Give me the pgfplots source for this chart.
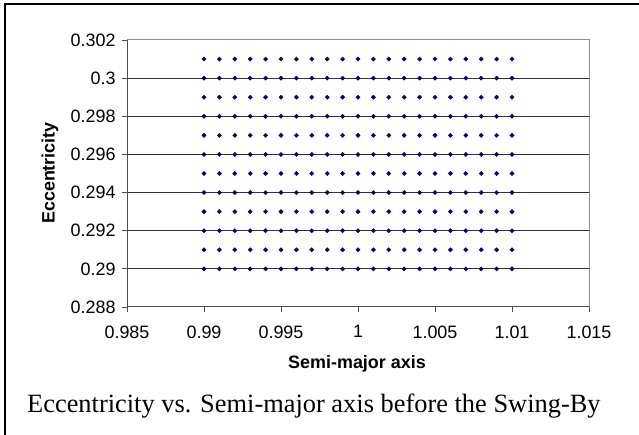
\documentclass[border=0pt]{standalone}
\usepackage{pgfplots}
\pgfplotsset{compat=1.18}
\usepackage{fontspec}
\setmainfont{Liberation Serif}
\newfontfamily\arial{Liberation Sans}
\definecolor{ptnavy}{RGB}{0,0,128}
\begin{document}
\begin{tikzpicture}
  \path[use as bounding box] (0,0) rectangle (639bp,435bp);
  % outer chart frame (only left and top edges are visible)
  \draw[line width=2bp] (5bp,-10bp) -- (5bp,431bp) -- (650bp,431bp);

  \begin{axis}[
    at={(127bp,128bp)}, anchor=south west,
    width=462bp, height=267bp, scale only axis,
    xmin=0.985, xmax=1.015,
    ymin=0.288, ymax=0.302,
    xtick={0.985,0.99,0.995,1,1.005,1.01,1.015},
    ytick={0.288,0.29,0.292,0.294,0.296,0.298,0.3,0.302},
    extra y ticks={0.29,0.292,0.294,0.296,0.298,0.3},
    extra y tick labels={},
    extra y tick style={ymajorgrids=true, major tick length=0pt},
    grid style={black!80, line width=0.8bp},
    scaled ticks=false,
    tick align=outside, tick pos=left,
    major tick length=5bp,
    tick style={black!70, line width=0.8bp},
    axis line style={black!45, line width=1bp},
    /pgf/number format/.cd, fixed, precision=3, assume math mode=true,
    /pgfplots/.cd,
    ticklabel style={font=\arial\fontsize{18}{18}\selectfont},
    yticklabel style={xshift=-3bp},
    xticklabel style={yshift=-10bp},
  ]
    % left and bottom axis lines are darker than the plot-area border
    \draw[black!70, line width=1bp] (rel axis cs:0,1) -- (rel axis cs:0,0) -- (rel axis cs:1,0);

    \addplot[only marks, mark=square*, mark size=1.5bp, mark options={rotate=45}, color=ptnavy] coordinates {
      (0.990,0.290) (0.991,0.290) (0.992,0.290) (0.993,0.290) (0.994,0.290) (0.995,0.290) (0.996,0.290) (0.997,0.290) (0.998,0.290) (0.999,0.290) (1.000,0.290) (1.001,0.290) (1.002,0.290) (1.003,0.290) (1.004,0.290) (1.005,0.290) (1.006,0.290) (1.007,0.290) (1.008,0.290) (1.009,0.290) (1.010,0.290)
      (0.990,0.291) (0.991,0.291) (0.992,0.291) (0.993,0.291) (0.994,0.291) (0.995,0.291) (0.996,0.291) (0.997,0.291) (0.998,0.291) (0.999,0.291) (1.000,0.291) (1.001,0.291) (1.002,0.291) (1.003,0.291) (1.004,0.291) (1.005,0.291) (1.006,0.291) (1.007,0.291) (1.008,0.291) (1.009,0.291) (1.010,0.291)
      (0.990,0.292) (0.991,0.292) (0.992,0.292) (0.993,0.292) (0.994,0.292) (0.995,0.292) (0.996,0.292) (0.997,0.292) (0.998,0.292) (0.999,0.292) (1.000,0.292) (1.001,0.292) (1.002,0.292) (1.003,0.292) (1.004,0.292) (1.005,0.292) (1.006,0.292) (1.007,0.292) (1.008,0.292) (1.009,0.292) (1.010,0.292)
      (0.990,0.293) (0.991,0.293) (0.992,0.293) (0.993,0.293) (0.994,0.293) (0.995,0.293) (0.996,0.293) (0.997,0.293) (0.998,0.293) (0.999,0.293) (1.000,0.293) (1.001,0.293) (1.002,0.293) (1.003,0.293) (1.004,0.293) (1.005,0.293) (1.006,0.293) (1.007,0.293) (1.008,0.293) (1.009,0.293) (1.010,0.293)
      (0.990,0.294) (0.991,0.294) (0.992,0.294) (0.993,0.294) (0.994,0.294) (0.995,0.294) (0.996,0.294) (0.997,0.294) (0.998,0.294) (0.999,0.294) (1.000,0.294) (1.001,0.294) (1.002,0.294) (1.003,0.294) (1.004,0.294) (1.005,0.294) (1.006,0.294) (1.007,0.294) (1.008,0.294) (1.009,0.294) (1.010,0.294)
      (0.990,0.295) (0.991,0.295) (0.992,0.295) (0.993,0.295) (0.994,0.295) (0.995,0.295) (0.996,0.295) (0.997,0.295) (0.998,0.295) (0.999,0.295) (1.000,0.295) (1.001,0.295) (1.002,0.295) (1.003,0.295) (1.004,0.295) (1.005,0.295) (1.006,0.295) (1.007,0.295) (1.008,0.295) (1.009,0.295) (1.010,0.295)
      (0.990,0.296) (0.991,0.296) (0.992,0.296) (0.993,0.296) (0.994,0.296) (0.995,0.296) (0.996,0.296) (0.997,0.296) (0.998,0.296) (0.999,0.296) (1.000,0.296) (1.001,0.296) (1.002,0.296) (1.003,0.296) (1.004,0.296) (1.005,0.296) (1.006,0.296) (1.007,0.296) (1.008,0.296) (1.009,0.296) (1.010,0.296)
      (0.990,0.297) (0.991,0.297) (0.992,0.297) (0.993,0.297) (0.994,0.297) (0.995,0.297) (0.996,0.297) (0.997,0.297) (0.998,0.297) (0.999,0.297) (1.000,0.297) (1.001,0.297) (1.002,0.297) (1.003,0.297) (1.004,0.297) (1.005,0.297) (1.006,0.297) (1.007,0.297) (1.008,0.297) (1.009,0.297) (1.010,0.297)
      (0.990,0.298) (0.991,0.298) (0.992,0.298) (0.993,0.298) (0.994,0.298) (0.995,0.298) (0.996,0.298) (0.997,0.298) (0.998,0.298) (0.999,0.298) (1.000,0.298) (1.001,0.298) (1.002,0.298) (1.003,0.298) (1.004,0.298) (1.005,0.298) (1.006,0.298) (1.007,0.298) (1.008,0.298) (1.009,0.298) (1.010,0.298)
      (0.990,0.299) (0.991,0.299) (0.992,0.299) (0.993,0.299) (0.994,0.299) (0.995,0.299) (0.996,0.299) (0.997,0.299) (0.998,0.299) (0.999,0.299) (1.000,0.299) (1.001,0.299) (1.002,0.299) (1.003,0.299) (1.004,0.299) (1.005,0.299) (1.006,0.299) (1.007,0.299) (1.008,0.299) (1.009,0.299) (1.010,0.299)
      (0.990,0.300) (0.991,0.300) (0.992,0.300) (0.993,0.300) (0.994,0.300) (0.995,0.300) (0.996,0.300) (0.997,0.300) (0.998,0.300) (0.999,0.300) (1.000,0.300) (1.001,0.300) (1.002,0.300) (1.003,0.300) (1.004,0.300) (1.005,0.300) (1.006,0.300) (1.007,0.300) (1.008,0.300) (1.009,0.300) (1.010,0.300)
      (0.990,0.301) (0.991,0.301) (0.992,0.301) (0.993,0.301) (0.994,0.301) (0.995,0.301) (0.996,0.301) (0.997,0.301) (0.998,0.301) (0.999,0.301) (1.000,0.301) (1.001,0.301) (1.002,0.301) (1.003,0.301) (1.004,0.301) (1.005,0.301) (1.006,0.301) (1.007,0.301) (1.008,0.301) (1.009,0.301) (1.010,0.301)
    };
  \end{axis}

  % axis titles and caption
  \node[rotate=90, font=\arial\bfseries\fontsize{18}{18}\selectfont] at (50bp,262bp) {Eccentricity};
  \node[anchor=base, font=\arial\bfseries\fontsize{18}{18}\selectfont] at (357bp,66bp) {Semi-major axis};
  \node[anchor=base west, inner sep=0pt, font=\fontsize{26.5}{30}\selectfont] at (27bp,23bp) {Eccentricity vs. Semi-major axis before the Swing-By};
\end{tikzpicture}
\end{document}
